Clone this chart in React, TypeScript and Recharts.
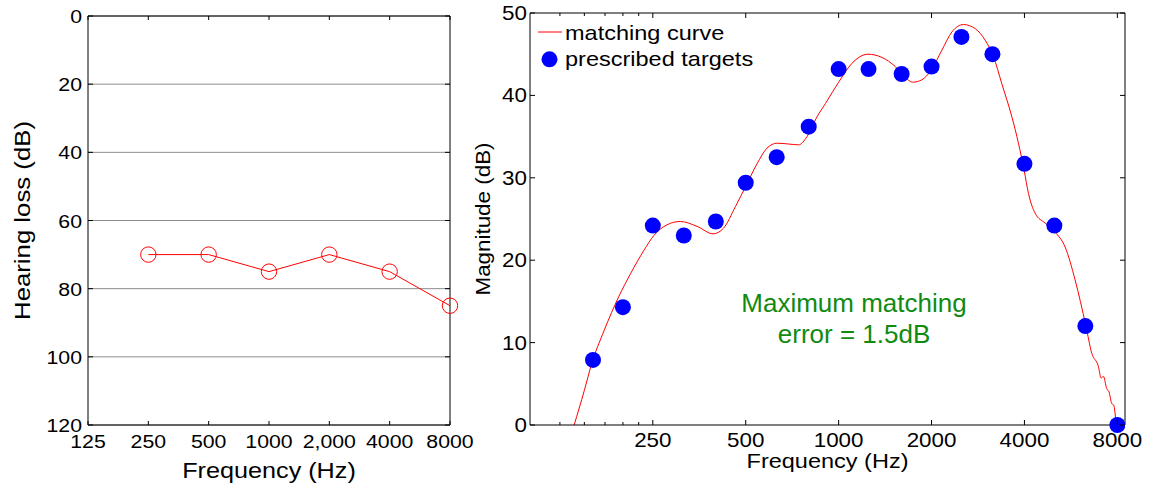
import React from "react";
import {
  ComposedChart,
  LineChart,
  Line,
  Scatter,
  XAxis,
  YAxis,
  CartesianGrid,
  ReferenceLine,
} from "recharts";

const FONT = '"Liberation Sans", Arial, Helvetica, sans-serif';
const STRETCH = 1.12;

// left panel: audiogram
const audioFreqLabels = ["125", "250", "500", "1000", "2,000", "4000", "8000"];
const hearingLoss = [null, 70, 70, 75, 70, 75, 85];
const lossTicks = [0, 20, 40, 60, 80, 100, 120];

// right panel: prescribed targets and matching curve
const targetFreqs = [160, 200, 250, 315, 400, 500, 630, 800, 1000, 1250, 1600, 2000, 2500, 3150, 4000, 5000, 6300, 8000];
const targetGains = [7.9, 14.3, 24.2, 23.0, 24.7, 29.4, 32.5, 36.2, 43.2, 43.2, 42.6, 43.5, 47.1, 45.0, 31.7, 24.2, 12.0, 0];

const curveFreqs = [
  139, 150, 158, 174, 194, 212, 234, 252, 278, 307,
  348, 392, 424, 463, 499, 544, 586, 632, 689, 742,
  790, 851, 906, 1000, 1105, 1245, 1382, 1526, 1644, 1736,
  1862, 1996, 2161, 2328, 2539, 2770, 2984, 3175, 3380, 3642,
  3825, 3992, 4122, 4332, 4668, 5030, 5418, 5838, 6320, 6611,
  6945, 7087, 7210, 7393, 7521, 7673, 7787, 7907, 8000,
];
const curveGains = [
  0, 4.2, 7.3, 11.5, 15.6, 18.4, 21.2, 23.0, 24.3, 24.7,
  24.1, 23.2, 23.9, 26.5, 28.9, 31.7, 33.6, 34.2, 34.1, 34.0,
  35.0, 37.4, 39.0, 41.6, 43.9, 45.0, 44.6, 43.5, 42.2, 41.6,
  41.9, 43.1, 45.5, 47.7, 48.6, 48.1, 46.7, 44.7, 41.4, 37.4,
  34.2, 30.9, 28.1, 25.7, 24.5, 23.4, 21.6, 17.6, 12.1, 8.7,
  7.1, 5.7, 5.9, 4.4, 4.0, 2.6, 2.4, 0.8, 0,
];

const freqMajorTicks = [250, 500, 1000, 2000, 4000, 8000];
const freqMinorTicks = [125, 150, 175, 200, 225];
const gainTicks = [0, 10, 20, 30, 40, 50];
const freqDomain = [100, 8470];

const audiogramRows = audioFreqLabels.map((f, i) => ({ f, loss: hearingLoss[i] }));
const targetRows = targetFreqs.map((f, i) => ({ f, g: targetGains[i] }));
const curveRows = curveFreqs.map((f, i) => ({ f, g: curveGains[i] }));
const allFreqTicks = [...freqMinorTicks, ...freqMajorTicks];

// plot box edges (chart coords), used for the mirrored inner ticks
const AUDIO_TOP = 16;
const AUDIO_RIGHT = 450;
const MATCH_TOP = 13;
const MATCH_RIGHT = 655;

function StretchText({ x, y, size, anchor = "middle", color = "#000", rotate = false, stretch = STRETCH, children }: any) {
  const t = rotate
    ? `translate(${x},${y}) rotate(-90) scale(${stretch},1)`
    : `translate(${x},${y}) scale(${stretch},1)`;
  return (
    <text transform={t} textAnchor={anchor} fontSize={size} fontFamily={FONT} fill={color}>
      {children}
    </text>
  );
}

// ---------- left chart ticks ----------
const audioBottomTick = (p: any) => (
  <g>
    <line x1={p.x} x2={p.x} y1={p.y} y2={p.y - 4} stroke="#000" />
    <line x1={p.x} x2={p.x} y1={AUDIO_TOP} y2={AUDIO_TOP + 4} stroke="#000" />
    <StretchText x={p.x} y={p.y + 23} size={19}>{p.payload.value}</StretchText>
  </g>
);
const audioLeftTick = (p: any) => (
  <g>
    <line x1={p.x} x2={p.x + 5} y1={p.y} y2={p.y} stroke="#000" />
    <line x1={AUDIO_RIGHT} x2={AUDIO_RIGHT - 5} y1={p.y} y2={p.y} stroke="#000" />
    <StretchText x={p.x - 6} y={p.y + 7} size={19} anchor="end">{p.payload.value}</StretchText>
  </g>
);

// ---------- right chart ticks ----------
const freqBottomTick = (p: any) => {
  const v = p.payload.value;
  const major = freqMajorTicks.includes(v);
  const len = major ? 5 : 3;
  return (
    <g>
      <line x1={p.x} x2={p.x} y1={p.y} y2={p.y - len} stroke="#000" />
      <line x1={p.x} x2={p.x} y1={MATCH_TOP} y2={MATCH_TOP + len} stroke="#000" />
      {major && <StretchText x={p.x} y={p.y + 22} size={20}>{v}</StretchText>}
    </g>
  );
};
const gainLeftTick = (p: any) => (
  <g>
    <line x1={p.x} x2={p.x + 5} y1={p.y} y2={p.y} stroke="#000" />
    <line x1={MATCH_RIGHT} x2={MATCH_RIGHT - 5} y1={p.y} y2={p.y} stroke="#000" />
    <StretchText x={p.x - 3} y={p.y + 7} size={20} anchor="end">{p.payload.value}</StretchText>
  </g>
);

function AudiogramChart() {
  return (
    <LineChart width={490} height={486} data={audiogramRows} margin={{ top: AUDIO_TOP, right: 40, bottom: 0, left: 0 }}>
      <CartesianGrid vertical={false} stroke="#8c8c8c" />
      <XAxis
        dataKey="f"
        type="category"
        height={61}
        interval={0}
        tickSize={0}
        tickMargin={0}
        tick={audioBottomTick}
        axisLine={{ stroke: "#000" }}
        tickLine={false}
        label={(p: any) => (
          <StretchText x={p.viewBox.x + p.viewBox.width / 2} y={p.viewBox.y + 53} size={22.5}>
            Frequency (Hz)
          </StretchText>
        )}
      />
      <YAxis
        type="number"
        domain={[0, 120]}
        ticks={lossTicks}
        reversed
        width={88}
        interval={0}
        tickSize={0}
        tickMargin={0}
        tick={audioLeftTick}
        axisLine={{ stroke: "#000" }}
        tickLine={false}
        label={(p: any) => (
          <StretchText x={p.viewBox.x + 30} y={p.viewBox.y + p.viewBox.height / 2} size={23} rotate>
            Hearing loss (dB)
          </StretchText>
        )}
      />
      <ReferenceLine y={0} stroke="#000" />
      <ReferenceLine x="8000" stroke="#000" />
      <Line
        dataKey="loss"
        stroke="#ff0000"
        strokeWidth={1}
        dot={{ r: 7.7, fill: "none", stroke: "#ff0000", strokeWidth: 1 }}
        activeDot={false}
        isAnimationActive={false}
      />
    </LineChart>
  );
}

function MatchingChart() {
  return (
    <ComposedChart width={681} height={486} margin={{ top: MATCH_TOP, right: 26, bottom: 0, left: 0 }}>
      <XAxis
        dataKey="f"
        type="number"
        scale="log"
        domain={freqDomain}
        allowDataOverflow
        ticks={allFreqTicks}
        height={61}
        interval={0}
        tickSize={0}
        tickMargin={0}
        tick={freqBottomTick}
        axisLine={{ stroke: "#000" }}
        tickLine={false}
        label={(p: any) => (
          <StretchText x={p.viewBox.x + p.viewBox.width / 2} y={p.viewBox.y + 43} size={21}>
            Frequency (Hz)
          </StretchText>
        )}
      />
      <YAxis
        dataKey="g"
        type="number"
        domain={[0, 50]}
        ticks={gainTicks}
        width={60}
        interval={0}
        tickSize={0}
        tickMargin={0}
        tick={gainLeftTick}
        axisLine={{ stroke: "#000" }}
        tickLine={false}
        label={(p: any) => (
          <StretchText x={p.viewBox.x + 19.5} y={p.viewBox.y + p.viewBox.height / 2} size={20} rotate>
            Magnitude (dB)
          </StretchText>
        )}
      />
      <ReferenceLine y={50} stroke="#000" />
      <ReferenceLine x={freqDomain[1]} stroke="#000" />
      <Line
        data={curveRows}
        dataKey="g"
        type="monotone"
        stroke="#ff0000"
        strokeWidth={1}
        dot={false}
        activeDot={false}
        isAnimationActive={false}
      />
      <Scatter
        data={targetRows}
        dataKey="g"
        fill="#0000ff"
        shape={(p: any) => <circle cx={p.cx} cy={p.cy} r={8} fill="#0000ff" />}
        isAnimationActive={false}
      />
      {/* legend */}
      <line x1={68} x2={92} y1={32} y2={32} stroke="#ff0000" strokeWidth={1} />
      <StretchText x={95} y={39.5} size={21} anchor="start">matching curve</StretchText>
      <circle cx={79.5} cy={59.3} r={8} fill="#0000ff" />
      <StretchText x={95} y={65.5} size={21} anchor="start">prescribed targets</StretchText>
      {/* annotation */}
      <StretchText x={384} y={311.7} size={25} stretch={1.04} color="#118a11">
        Maximum matching
      </StretchText>
      <StretchText x={384} y={342.7} size={25} stretch={1.04} color="#118a11">
        error = 1.5dB
      </StretchText>
    </ComposedChart>
  );
}

export default function App() {
  return (
    <div style={{ position: "absolute", left: 0, top: 0, width: 1151, height: 486, background: "#fff" }}>
      <div style={{ position: "absolute", left: 0, top: 0 }}>
        <AudiogramChart />
      </div>
      <div style={{ position: "absolute", left: 470, top: 0 }}>
        <MatchingChart />
      </div>
    </div>
  );
}
